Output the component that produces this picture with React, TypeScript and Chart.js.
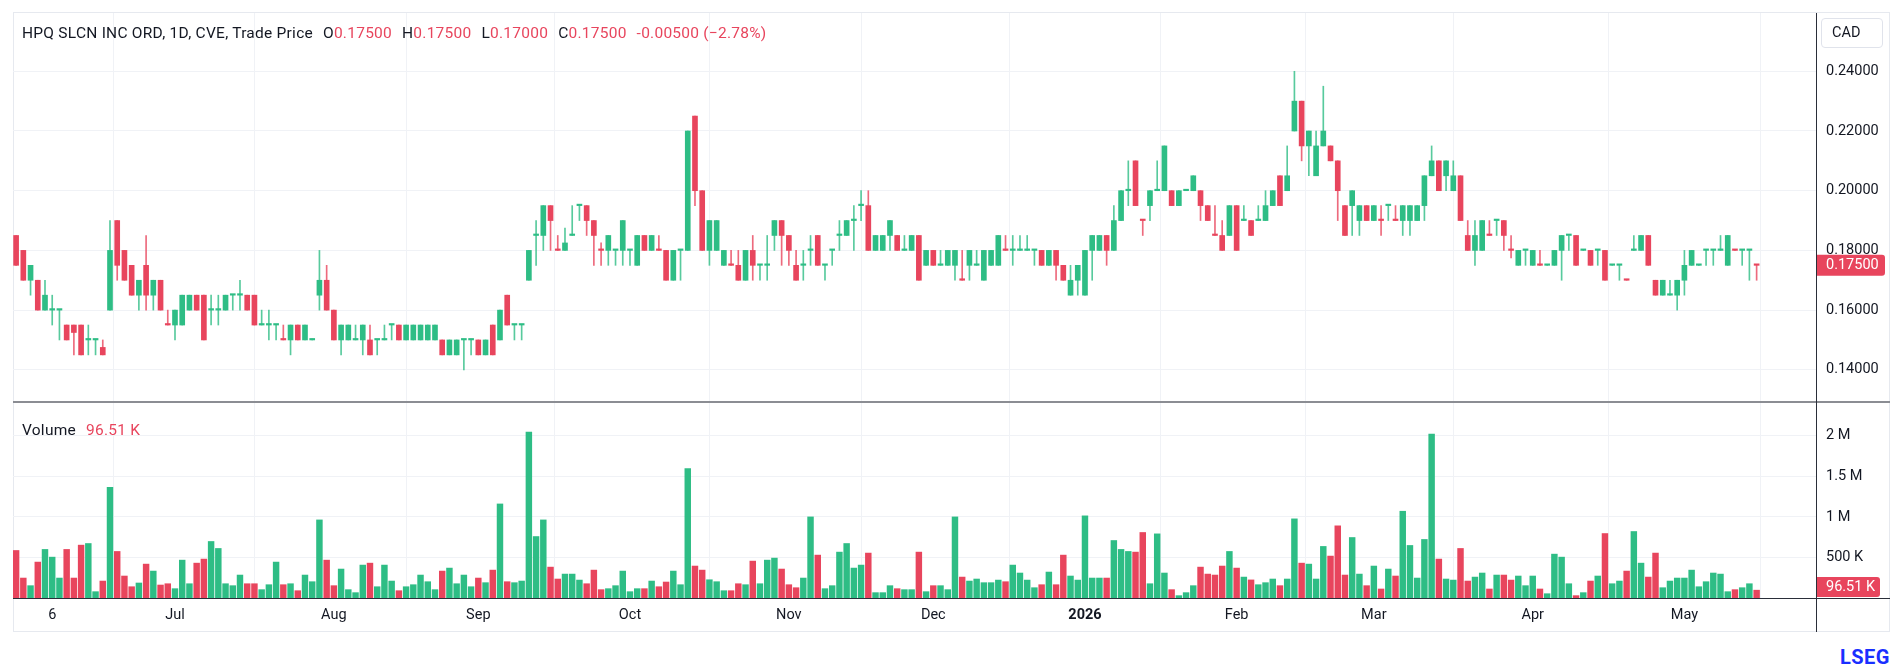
import React, { useEffect, useRef } from 'react';
import { Chart, registerables } from 'chart.js';

Chart.register(...registerables);

// ---------- data (daily candles, index 0 = 30 May 2025 ... 241 = 15 May 2026) ----------
const opens = [
  0.185, 0.18, 0.17, 0.17, 0.16, 0.16, 0.16, 0.155, 0.155, 0.155,
  0.15, 0.15, 0.1475, 0.16, 0.19, 0.18, 0.175, 0.165, 0.175, 0.165,
  0.17, 0.155, 0.155, 0.155, 0.16, 0.165, 0.165, 0.16, 0.16, 0.16,
  0.165, 0.165, 0.165, 0.165, 0.155, 0.155, 0.155, 0.15, 0.15, 0.155,
  0.15, 0.15, 0.165, 0.17, 0.16, 0.15, 0.15, 0.15, 0.15, 0.15,
  0.15, 0.15, 0.155, 0.155, 0.15, 0.15, 0.15, 0.15, 0.15, 0.15,
  0.145, 0.145, 0.15, 0.15, 0.15, 0.145, 0.155, 0.15, 0.165, 0.155,
  0.155, 0.17, 0.185, 0.185, 0.195, 0.18, 0.18, 0.185, 0.195, 0.195,
  0.19, 0.18, 0.18, 0.18, 0.18, 0.18, 0.175, 0.185, 0.18, 0.18,
  0.18, 0.17, 0.18, 0.18, 0.225, 0.2, 0.18, 0.18, 0.175, 0.175,
  0.175, 0.17, 0.18, 0.175, 0.175, 0.185, 0.19, 0.185, 0.175, 0.175,
  0.18, 0.185, 0.175, 0.18, 0.185, 0.185, 0.19, 0.195, 0.195, 0.18,
  0.18, 0.185, 0.185, 0.18, 0.18, 0.185, 0.175, 0.18, 0.175, 0.175,
  0.175, 0.17, 0.175, 0.175, 0.17, 0.175, 0.175, 0.18, 0.18, 0.18,
  0.18, 0.18, 0.18, 0.175, 0.18, 0.175, 0.165, 0.17, 0.165, 0.18,
  0.18, 0.185, 0.18, 0.19, 0.2, 0.21, 0.19, 0.195, 0.2, 0.2,
  0.2, 0.195, 0.2, 0.2, 0.2, 0.195, 0.185, 0.185, 0.185, 0.195,
  0.19, 0.19, 0.19, 0.19, 0.195, 0.205, 0.2, 0.22, 0.23, 0.215,
  0.205, 0.215, 0.215, 0.21, 0.195, 0.195, 0.19, 0.195, 0.19, 0.19,
  0.195, 0.19, 0.19, 0.19, 0.19, 0.195, 0.205, 0.21, 0.205, 0.2,
  0.205, 0.185, 0.18, 0.18, 0.185, 0.19, 0.19, 0.18, 0.175, 0.18,
  0.175, 0.175, 0.175, 0.175, 0.18, 0.185, 0.185, 0.18, 0.18, 0.18,
  0.18, 0.175, 0.175, 0.17, 0.18, 0.18, 0.185, 0.17, 0.165, 0.165,
  0.165, 0.17, 0.175, 0.175, 0.18, 0.18, 0.18, 0.175, 0.18, 0.18,
  0.18, 0.175,
];
const highs = [
  0.185, 0.18, 0.175, 0.17, 0.17, 0.165, 0.16, 0.155, 0.155, 0.155,
  0.155, 0.15, 0.15, 0.19, 0.19, 0.18, 0.175, 0.17, 0.185, 0.17,
  0.17, 0.16, 0.16, 0.165, 0.165, 0.165, 0.165, 0.165, 0.165, 0.165,
  0.165, 0.17, 0.165, 0.165, 0.16, 0.16, 0.155, 0.155, 0.155, 0.155,
  0.155, 0.15, 0.18, 0.175, 0.16, 0.155, 0.155, 0.155, 0.155, 0.155,
  0.15, 0.155, 0.155, 0.155, 0.155, 0.155, 0.155, 0.155, 0.155, 0.15,
  0.15, 0.15, 0.15, 0.15, 0.15, 0.15, 0.155, 0.16, 0.165, 0.155,
  0.155, 0.18, 0.19, 0.195, 0.195, 0.185, 0.1875, 0.195, 0.195, 0.195,
  0.19, 0.1825, 0.185, 0.18, 0.19, 0.18, 0.185, 0.185, 0.185, 0.185,
  0.18, 0.18, 0.18, 0.22, 0.225, 0.2, 0.19, 0.19, 0.18, 0.18,
  0.18, 0.18, 0.185, 0.175, 0.185, 0.19, 0.19, 0.185, 0.18, 0.18,
  0.185, 0.185, 0.175, 0.18, 0.19, 0.19, 0.195, 0.2, 0.2, 0.185,
  0.185, 0.19, 0.185, 0.185, 0.185, 0.185, 0.18, 0.18, 0.18, 0.18,
  0.18, 0.18, 0.18, 0.18, 0.18, 0.18, 0.185, 0.185, 0.185, 0.185,
  0.185, 0.18, 0.18, 0.18, 0.18, 0.175, 0.175, 0.175, 0.18, 0.185,
  0.185, 0.185, 0.195, 0.2, 0.21, 0.21, 0.19, 0.2, 0.21, 0.215,
  0.2, 0.2, 0.2, 0.205, 0.2, 0.195, 0.195, 0.19, 0.195, 0.195,
  0.195, 0.19, 0.195, 0.2, 0.2, 0.205, 0.215, 0.24, 0.23, 0.22,
  0.22, 0.235, 0.215, 0.21, 0.195, 0.2, 0.195, 0.195, 0.195, 0.195,
  0.195, 0.195, 0.195, 0.195, 0.195, 0.205, 0.215, 0.21, 0.21, 0.21,
  0.205, 0.19, 0.19, 0.19, 0.19, 0.19, 0.19, 0.185, 0.18, 0.18,
  0.18, 0.18, 0.175, 0.18, 0.185, 0.185, 0.185, 0.18, 0.18, 0.18,
  0.18, 0.175, 0.175, 0.17, 0.185, 0.185, 0.185, 0.17, 0.17, 0.17,
  0.17, 0.18, 0.18, 0.175, 0.18, 0.18, 0.185, 0.185, 0.18, 0.18,
  0.18, 0.175,
];
const lows = [
  0.175, 0.17, 0.165, 0.16, 0.16, 0.155, 0.15, 0.15, 0.145, 0.145,
  0.145, 0.145, 0.145, 0.16, 0.17, 0.17, 0.165, 0.16, 0.16, 0.16,
  0.16, 0.155, 0.15, 0.155, 0.16, 0.16, 0.15, 0.155, 0.155, 0.16,
  0.16, 0.16, 0.16, 0.155, 0.155, 0.15, 0.15, 0.15, 0.145, 0.15,
  0.15, 0.15, 0.16, 0.16, 0.15, 0.145, 0.15, 0.15, 0.145, 0.145,
  0.145, 0.15, 0.15, 0.15, 0.15, 0.15, 0.15, 0.15, 0.15, 0.145,
  0.145, 0.145, 0.14, 0.145, 0.145, 0.145, 0.145, 0.15, 0.155, 0.15,
  0.15, 0.17, 0.175, 0.18, 0.18, 0.18, 0.18, 0.185, 0.19, 0.185,
  0.175, 0.175, 0.175, 0.175, 0.175, 0.175, 0.175, 0.18, 0.18, 0.18,
  0.17, 0.17, 0.17, 0.18, 0.195, 0.18, 0.175, 0.18, 0.175, 0.175,
  0.17, 0.17, 0.17, 0.17, 0.17, 0.18, 0.175, 0.175, 0.17, 0.17,
  0.175, 0.175, 0.17, 0.175, 0.18, 0.185, 0.18, 0.19, 0.18, 0.18,
  0.18, 0.18, 0.18, 0.18, 0.18, 0.17, 0.175, 0.175, 0.175, 0.175,
  0.17, 0.17, 0.17, 0.175, 0.17, 0.175, 0.175, 0.18, 0.175, 0.18,
  0.18, 0.175, 0.175, 0.175, 0.17, 0.17, 0.165, 0.165, 0.165, 0.17,
  0.18, 0.175, 0.18, 0.19, 0.195, 0.195, 0.185, 0.19, 0.2, 0.2,
  0.195, 0.195, 0.2, 0.2, 0.19, 0.19, 0.185, 0.18, 0.185, 0.18,
  0.19, 0.185, 0.19, 0.19, 0.195, 0.195, 0.2, 0.22, 0.21, 0.205,
  0.205, 0.215, 0.21, 0.19, 0.185, 0.185, 0.185, 0.19, 0.19, 0.185,
  0.19, 0.19, 0.185, 0.185, 0.19, 0.19, 0.205, 0.2, 0.2, 0.2,
  0.19, 0.18, 0.175, 0.18, 0.185, 0.185, 0.18, 0.1775, 0.175, 0.175,
  0.175, 0.175, 0.175, 0.175, 0.17, 0.18, 0.175, 0.18, 0.175, 0.175,
  0.17, 0.175, 0.17, 0.17, 0.18, 0.18, 0.175, 0.165, 0.165, 0.165,
  0.16, 0.165, 0.175, 0.175, 0.175, 0.175, 0.18, 0.175, 0.18, 0.175,
  0.17, 0.17,
];
const closes = [
  0.175, 0.17, 0.175, 0.16, 0.165, 0.16, 0.16, 0.15, 0.1525, 0.145,
  0.15, 0.15, 0.145, 0.18, 0.175, 0.17, 0.165, 0.17, 0.165, 0.17,
  0.16, 0.155, 0.16, 0.165, 0.165, 0.16, 0.15, 0.16, 0.16, 0.165,
  0.165, 0.165, 0.16, 0.155, 0.155, 0.155, 0.155, 0.15, 0.155, 0.15,
  0.155, 0.15, 0.17, 0.16, 0.15, 0.155, 0.155, 0.15, 0.155, 0.145,
  0.15, 0.15, 0.155, 0.15, 0.155, 0.155, 0.155, 0.155, 0.155, 0.145,
  0.15, 0.15, 0.15, 0.15, 0.145, 0.15, 0.145, 0.16, 0.155, 0.155,
  0.155, 0.18, 0.185, 0.195, 0.19, 0.18, 0.1825, 0.185, 0.195, 0.19,
  0.185, 0.18, 0.185, 0.18, 0.19, 0.18, 0.185, 0.18, 0.185, 0.18,
  0.17, 0.18, 0.18, 0.22, 0.2, 0.18, 0.19, 0.19, 0.18, 0.175,
  0.17, 0.18, 0.175, 0.175, 0.175, 0.19, 0.185, 0.18, 0.17, 0.175,
  0.18, 0.175, 0.175, 0.18, 0.185, 0.19, 0.19, 0.195, 0.18, 0.185,
  0.185, 0.19, 0.18, 0.18, 0.185, 0.17, 0.18, 0.175, 0.175, 0.18,
  0.18, 0.17, 0.18, 0.175, 0.18, 0.18, 0.185, 0.18, 0.18, 0.18,
  0.18, 0.18, 0.175, 0.18, 0.175, 0.17, 0.17, 0.175, 0.18, 0.185,
  0.185, 0.18, 0.19, 0.2, 0.2, 0.195, 0.19, 0.2, 0.2, 0.215,
  0.195, 0.2, 0.2, 0.205, 0.195, 0.19, 0.185, 0.18, 0.195, 0.18,
  0.19, 0.185, 0.19, 0.195, 0.2, 0.195, 0.205, 0.23, 0.215, 0.22,
  0.215, 0.22, 0.21, 0.2, 0.185, 0.2, 0.195, 0.19, 0.195, 0.19,
  0.195, 0.19, 0.195, 0.195, 0.195, 0.205, 0.21, 0.2, 0.21, 0.205,
  0.19, 0.18, 0.185, 0.19, 0.185, 0.19, 0.185, 0.18, 0.18, 0.18,
  0.18, 0.175, 0.175, 0.18, 0.185, 0.185, 0.175, 0.18, 0.175, 0.18,
  0.17, 0.175, 0.175, 0.17, 0.18, 0.185, 0.175, 0.165, 0.17, 0.165,
  0.17, 0.175, 0.18, 0.175, 0.18, 0.18, 0.18, 0.185, 0.18, 0.18,
  0.18, 0.175,
];
// volume in thousands of shares
const volumesK = [
  586, 246, 152, 443, 599, 504, 246, 599, 246, 652,
  672, 78, 209, 1365, 574, 271, 139, 185, 418, 332,
  160, 176, 115, 467, 176, 430, 480, 697, 611, 176,
  152, 283, 176, 176, 103, 164, 443, 164, 176, 90,
  283, 201, 963, 467, 152, 357, 103, 66, 406, 430,
  139, 406, 209, 90, 139, 164, 283, 201, 103, 332,
  369, 176, 283, 139, 246, 189, 344, 1160, 201, 189,
  209, 2046, 758, 963, 381, 234, 295, 295, 221, 176,
  344, 103, 115, 152, 332, 78, 115, 115, 209, 139,
  197, 332, 164, 1595, 394, 344, 225, 201, 90, 90,
  176, 164, 455, 176, 467, 492, 357, 164, 127, 246,
  1000, 529, 115, 152, 566, 672, 369, 406, 554, 66,
  66, 152, 115, 103, 103, 566, 78, 152, 152, 103,
  1000, 258, 209, 234, 189, 189, 221, 201, 406, 308,
  221, 127, 164, 320, 164, 529, 271, 221, 1013, 246,
  246, 246, 709, 599, 574, 566, 808, 176, 791, 308,
  103, 29, 66, 152, 381, 295, 283, 394, 574, 369,
  258, 223, 164, 189, 234, 152, 234, 976, 430, 418,
  234, 636, 517, 890, 283, 746, 295, 152, 394, 111,
  357, 271, 1070, 648, 246, 722, 2021, 480, 234, 221,
  611, 209, 258, 308, 111, 283, 283, 221, 271, 152,
  271, 111, 53, 541, 504, 176, 29, 66, 209, 271,
  795, 176, 209, 332, 820, 430, 258, 554, 127, 209,
  246, 246, 344, 139, 201, 308, 295, 78, 103, 127,
  176, 96.51,
];
// candles with open == close that are drawn as down candles
const redDojis = [21, 37, 75, 81, 89, 99, 131, 137, 156, 166, 189, 191, 204, 207, 211, 223, 238, 241];

const tickIdx = [5, 22, 44, 64, 85, 107, 127, 148, 169, 188, 210, 231];
const tickLabels = ['6', 'Jul', 'Aug', 'Sep', 'Oct', 'Nov', 'Dec', '2026', 'Feb', 'Mar', 'Apr', 'May'];
const priceTicks = [0.14, 0.16, 0.18, 0.2, 0.22, 0.24];
const volTicks = [500000, 1000000, 1500000, 2000000];
const volTickLabels = ['500 K', '1 M', '1.5 M', '2 M'];

// ---------- styling ----------
const UP = '#2ebd85';
const DOWN = '#e8455d';
const UP_WICK = 'rgba(46,189,133,0.8)';
const DOWN_WICK = 'rgba(232,69,93,0.8)';
const GRID = '#f0f2f6';
const TEXT = '#131722';
const FONT = 'Roboto, "Noto Sans", "DejaVu Sans", sans-serif';
const FS = 14.5;

const X_MIN = -0.43;
const X_MAX = 249.36;
const P_MIN = 0.12955;
const P_MAX = 0.25953;
const V_MAX = 2405000;
const AXIS_W = 73;

const isUp = (i: number) =>
  closes[i] > opens[i] || (closes[i] === opens[i] && !redDojis.includes(i));

function roundRectRight(ctx: CanvasRenderingContext2D, x: number, y: number, w: number, h: number, r: number) {
  ctx.beginPath();
  ctx.moveTo(x, y);
  ctx.lineTo(x + w - r, y);
  ctx.quadraticCurveTo(x + w, y, x + w, y + r);
  ctx.lineTo(x + w, y + h - r);
  ctx.quadraticCurveTo(x + w, y + h, x + w - r, y + h);
  ctx.lineTo(x, y + h);
  ctx.closePath();
}

function lastLabelPlugin(id: string, text: string, scaleId: string, value: number, right: number, h: number) {
  return {
    id,
    afterDraw(chart: any) {
      const { ctx, chartArea } = chart;
      const sc = chart.scales[scaleId];
      let y = sc.getPixelForValue(value);
      y = Math.min(y, chartArea.bottom - h / 2 - 1);
      const x = chartArea.right;
      ctx.save();
      ctx.fillStyle = DOWN;
      roundRectRight(ctx, x, y - h / 2, right - x, h, 3);
      ctx.fill();
      ctx.fillStyle = '#ffffff';
      ctx.font = `${FS}px ${FONT}`;
      ctx.textBaseline = 'middle';
      ctx.textAlign = 'left';
      ctx.fillText(text, x + 9, y + 0.5);
      ctx.restore();
    },
  };
}

const idx = opens.map((_, i) => i);
const colors = idx.map((i) => (isUp(i) ? UP : DOWN));
const wickColors = idx.map((i) => (isUp(i) ? UP_WICK : DOWN_WICK));

export default function App() {
  const priceRef = useRef<HTMLCanvasElement>(null);
  const volRef = useRef<HTMLCanvasElement>(null);

  useEffect(() => {
    Chart.defaults.font.family = FONT;
    const xCommon = {
      type: 'linear' as const,
      min: X_MIN,
      max: X_MAX,
      offset: false,
      afterBuildTicks: (s: any) => {
        s.ticks = tickIdx.map((v) => ({ value: v }));
      },
      grid: { color: GRID, drawTicks: false, lineWidth: 1 },
      border: { display: false },
    };

    const price = new Chart(priceRef.current!, {
      type: 'bar',
      data: {
        datasets: [
          {
            label: 'body',
            data: idx.map((i) => ({ x: i, y: [Math.min(opens[i], closes[i]), Math.max(opens[i], closes[i])] })) as any,
            backgroundColor: colors,
            barThickness: 5,
            minBarLength: 1.5,
            order: 0,
          },
          {
            label: 'wick',
            data: idx.map((i) => ({ x: i, y: [lows[i], highs[i]] })) as any,
            backgroundColor: wickColors,
            barThickness: 1,
            minBarLength: 1,
            order: 1,
          },
        ],
      },
      options: {
        responsive: false,
        animation: false,
        events: [],
        datasets: { bar: { grouped: false } } as any,
        layout: { padding: 0 },
        plugins: { legend: { display: false }, tooltip: { enabled: false } },
        scales: {
          x: {
            ...xCommon,
            ticks: { display: false },
            afterFit: (s: any) => {
              s.height = 0;
            },
          } as any,
          y: {
            position: 'right',
            min: P_MIN,
            max: P_MAX,
            afterBuildTicks: (s: any) => {
              s.ticks = priceTicks.map((v) => ({ value: v }));
            },
            afterFit: (s: any) => {
              s.width = AXIS_W;
              s.paddingTop = 0;
              s.paddingBottom = 0;
            },
            ticks: {
              padding: 9,
              color: TEXT,
              font: { size: FS, family: FONT },
              callback: (v: any) => Number(v).toFixed(5),
            },
            grid: { color: GRID, drawTicks: false },
            border: { display: false },
          } as any,
        },
      },
      plugins: [lastLabelPlugin('lastPrice', closes[closes.length - 1].toFixed(5), 'y', closes[closes.length - 1], 1872, 21)],
    });

    const vol = new Chart(volRef.current!, {
      type: 'bar',
      data: {
        datasets: [
          {
            label: 'Volume',
            data: idx.map((i) => ({ x: i, y: volumesK[i] * 1000 })) as any,
            backgroundColor: colors,
            barThickness: 5.8,
          },
        ],
      },
      options: {
        responsive: false,
        animation: false,
        events: [],
        layout: { padding: 0 },
        plugins: { legend: { display: false }, tooltip: { enabled: false } },
        scales: {
          x: {
            ...xCommon,
            ticks: {
              autoSkip: false,
              maxRotation: 0,
              padding: 9,
              color: TEXT,
              font: (c: any) => ({
                size: FS,
                family: FONT,
                weight: c.tick && c.tick.value === 148 ? 'bold' : 'normal',
              }),
              callback: (v: any) => tickLabels[tickIdx.indexOf(Number(v))] ?? '',
            },
            afterFit: (s: any) => {
              s.height = 34;
            },
          } as any,
          y: {
            position: 'right',
            min: 0,
            max: V_MAX,
            afterBuildTicks: (s: any) => {
              s.ticks = volTicks.map((v) => ({ value: v }));
            },
            afterFit: (s: any) => {
              s.width = AXIS_W;
              s.paddingTop = 0;
              s.paddingBottom = 0;
            },
            ticks: {
              padding: 9,
              color: TEXT,
              font: { size: FS, family: FONT },
              callback: (v: any) => volTickLabels[volTicks.indexOf(Number(v))] ?? '',
            },
            grid: { color: GRID, drawTicks: false },
            border: { display: false },
          } as any,
        },
      },
      plugins: [lastLabelPlugin('lastVol', '96.51 K', 'y', volumesK[volumesK.length - 1] * 1000, 1867, 20)],
    });

    return () => {
      price.destroy();
      vol.destroy();
    };
  }, []);

  const abs = (s: React.CSSProperties): React.CSSProperties => ({ position: 'absolute', ...s });
  const font: React.CSSProperties = { fontFamily: FONT, fontSize: FS, color: TEXT, whiteSpace: 'nowrap', lineHeight: '18px' };
  const legendFont: React.CSSProperties = { ...font, fontSize: 15.5, letterSpacing: 0.25 };
  const red: React.CSSProperties = { color: DOWN };

  return (
    <div style={abs({ left: 0, top: 0, width: 1903, height: 671, background: '#ffffff', overflow: 'hidden' })}>
      {/* frame */}
      <div style={abs({ left: 13, top: 12, width: 1877, height: 620, border: '1px solid #e6e9ef', boxSizing: 'border-box' })} />
      <canvas ref={priceRef} width={1877} height={388} style={abs({ left: 13, top: 13, width: 1877, height: 388, display: 'block' })} />
      <canvas ref={volRef} width={1877} height={229} style={abs({ left: 13, top: 403, width: 1877, height: 229, display: 'block' })} />
      {/* pane separator */}
      <div style={abs({ left: 13, top: 401, width: 1877, height: 2, background: '#8b8d93' })} />
      {/* time axis line */}
      <div style={abs({ left: 13, top: 598, width: 1877, height: 1, background: '#2a2e39' })} />
      {/* price axis line */}
      <div style={abs({ left: 1816, top: 13, width: 1, height: 619, background: '#2a2e39' })} />

      {/* legend / title */}
      <div style={abs({ left: 22, top: 24, ...legendFont })}>
        <span>HPQ SLCN INC ORD, 1D, CVE, Trade Price</span>
        <span style={{ marginLeft: 10 }}>O</span><span style={red}>0.17500</span>
        <span style={{ marginLeft: 10 }}>H</span><span style={red}>0.17500</span>
        <span style={{ marginLeft: 10 }}>L</span><span style={red}>0.17000</span>
        <span style={{ marginLeft: 10 }}>C</span><span style={red}>0.17500</span>
        <span style={{ ...red, marginLeft: 10 }}>-0.00500 (−2.78%)</span>
      </div>
      <div style={abs({ left: 22, top: 421, ...legendFont })}>
        <span>Volume</span>
        <span style={{ ...red, marginLeft: 10 }}>96.51 K</span>
      </div>

      {/* currency box */}
      <div style={abs({ left: 1821, top: 18, width: 62, height: 30, border: '1px solid #e0e3eb', borderRadius: 4, boxSizing: 'border-box', ...font, lineHeight: '28px', paddingLeft: 10 })}>CAD</div>

      {/* data vendor mark */}
      <div style={abs({ left: 1800, top: 645, width: 90, textAlign: 'right', fontFamily: FONT, fontWeight: 'bold', fontSize: 20, lineHeight: '24px', color: '#1a2fff', letterSpacing: 0.5 })}>LSEG</div>
    </div>
  );
}
